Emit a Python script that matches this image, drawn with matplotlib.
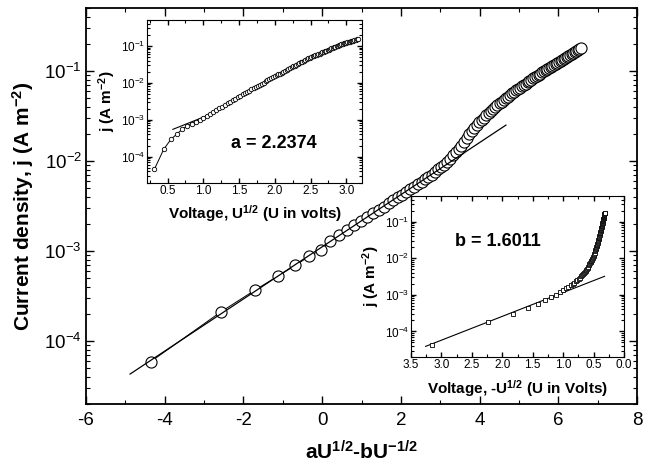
import numpy as np
import matplotlib
matplotlib.use('Agg')
import matplotlib.pyplot as plt
from matplotlib.ticker import MultipleLocator, LogLocator, NullFormatter

plt.rcParams['font.family'] = ['Liberation Sans', 'DejaVu Sans']
plt.rcParams['mathtext.default'] = 'regular'
plt.rcParams['axes.unicode_minus'] = False

# applied voltage U (V)
voltage = [0.1, 0.2, 0.3, 0.4, 0.5, 0.6, 0.7, 0.8, 0.9, 1.0,
           1.1, 1.2, 1.3, 1.4, 1.5, 1.6, 1.7, 1.8, 1.9, 2.0,
           2.1, 2.2, 2.3, 2.4, 2.5, 2.6, 2.7, 2.8, 2.9, 3.0,
           3.1, 3.2, 3.3, 3.4, 3.5, 3.6, 3.7, 3.8, 3.9, 4.0,
           4.1, 4.2, 4.3, 4.4, 4.5, 4.6, 4.7, 4.8, 4.9, 5.0,
           5.1, 5.2, 5.3, 5.4, 5.5, 5.6, 5.7, 5.8, 5.9, 6.0,
           6.1, 6.2, 6.3, 6.4, 6.5, 6.6, 6.7, 6.8, 6.9, 7.0,
           7.1, 7.2, 7.3, 7.4, 7.5, 7.6, 7.7, 7.8, 7.9, 8.0,
           8.1, 8.2, 8.3, 8.4, 8.5, 8.6, 8.7, 8.8, 8.9, 9.0,
           9.1, 9.2, 9.3, 9.4, 9.5, 9.6, 9.7, 9.8, 9.9, 10.0]

# log10 of current density (A m^-2)
log_j = [-4.229, -3.678, -3.432, -3.276, -3.161, -3.060, -2.991, -2.891, -2.826, -2.768,
         -2.714, -2.665, -2.619, -2.577, -2.546, -2.508, -2.472, -2.438, -2.405, -2.373,
         -2.342, -2.313, -2.285, -2.256, -2.230, -2.204, -2.178, -2.152, -2.123, -2.095,
         -2.067, -2.040, -2.010, -1.974, -1.938, -1.903, -1.869, -1.830, -1.787, -1.746,
         -1.705, -1.665, -1.630, -1.601, -1.573, -1.545, -1.518, -1.491, -1.464, -1.440,
         -1.420, -1.400, -1.380, -1.361, -1.341, -1.322, -1.303, -1.285, -1.266, -1.248,
         -1.231, -1.215, -1.200, -1.185, -1.170, -1.155, -1.141, -1.126, -1.112, -1.098,
         -1.084, -1.070, -1.056, -1.042, -1.029, -1.015, -1.002, -0.989, -0.976, -0.964,
         -0.953, -0.941, -0.930, -0.919, -0.908, -0.897, -0.886, -0.875, -0.864, -0.854,
         -0.843, -0.832, -0.822, -0.811, -0.801, -0.790, -0.780, -0.770, -0.760, -0.749]

# log10 of current density as shown in the upper inset (vs U^1/2)
log_j_upper = [-4.340, -3.800, -3.530, -3.385, -3.257, -3.170, -3.107, -3.049, -2.994, -2.942,
               -2.892, -2.841, -2.788, -2.738, -2.689, -2.642, -2.596, -2.551, -2.509, -2.467,
               -2.426, -2.386, -2.346, -2.309, -2.275, -2.242, -2.209, -2.176, -2.144, -2.113,
               -2.082, -2.052, -2.022, -1.993, -1.964, -1.937, -1.908, -1.881, -1.853, -1.826,
               -1.800, -1.775, -1.749, -1.724, -1.700, -1.675, -1.652, -1.628, -1.604, -1.581,
               -1.558, -1.535, -1.512, -1.489, -1.467, -1.446, -1.424, -1.402, -1.380, -1.359,
               -1.337, -1.319, -1.303, -1.287, -1.270, -1.255, -1.239, -1.223, -1.207, -1.192,
               -1.176, -1.161, -1.146, -1.131, -1.116, -1.101, -1.086, -1.071, -1.057, -1.043,
               -1.028, -1.013, -0.999, -0.985, -0.971, -0.957, -0.944, -0.934, -0.924, -0.914,
               -0.904, -0.894, -0.884, -0.875, -0.865, -0.856, -0.846, -0.837, -0.827, -0.818]

# log10 of current density as shown in the lower inset (vs U^-1/2)
log_j_lower = [-4.365, -3.755, -3.530, -3.365, -3.240, -3.140, -3.060, -2.995, -2.924, -2.864,
               -2.818, -2.779, -2.740, -2.701, -2.665, -2.634, -2.599, -2.562, -2.528, -2.498,
               -2.470, -2.443, -2.408, -2.373, -2.341, -2.310, -2.283, -2.255, -2.227, -2.196,
               -2.169, -2.142, -2.114, -2.090, -2.068, -2.044, -2.023, -2.001, -1.980, -1.946,
               -1.913, -1.879, -1.845, -1.817, -1.784, -1.756, -1.728, -1.700, -1.677, -1.649,
               -1.627, -1.604, -1.576, -1.554, -1.531, -1.513, -1.485, -1.458, -1.437, -1.409,
               -1.389, -1.368, -1.340, -1.320, -1.299, -1.278, -1.257, -1.237, -1.223, -1.202,
               -1.181, -1.168, -1.147, -1.133, -1.111, -1.096, -1.075, -1.060, -1.046, -1.031,
               -1.009, -0.995, -0.980, -0.966, -0.951, -0.937, -0.922, -0.908, -0.893, -0.878,
               -0.864, -0.857, -0.842, -0.828, -0.813, -0.806, -0.791, -0.777, -0.769, -0.755]

a_coef = 2.2374
b_coef = 1.6011

# straight-line fits (end points)
fit_main_x = [-4.88, 4.67]
fit_main_j = [4.3e-5, 2.5e-2]
fit_a_x = [0.575, 1.1]
fit_a_j = [5.5e-4, 1.4e-3]
fit_b_x = [3.26, 0.32]
fit_b_j = [3.9e-5, 3.2e-3]

U = np.array(voltage)
j = 10 ** np.array(log_j)
j_upper = 10 ** np.array(log_j_upper)
j_lower = 10 ** np.array(log_j_lower)
x_main = a_coef * np.sqrt(U) - b_coef / np.sqrt(U)


def style_log_axis(ax, major_len, minor_len, lsize, pad):
    ax.set_yscale('log')
    ax.yaxis.set_major_locator(LogLocator(base=10, numticks=12))
    ax.yaxis.set_minor_locator(LogLocator(base=10, subs=np.arange(2, 10), numticks=12))
    ax.yaxis.set_minor_formatter(NullFormatter())
    ax.tick_params(which='both', direction='in', top=True, right=True)
    ax.tick_params(which='major', length=major_len, width=1, labelsize=lsize, pad=pad)
    ax.tick_params(which='minor', length=minor_len, width=0.8)


fig = plt.figure(figsize=(6.52, 4.68), dpi=100)

# main plot
ax = fig.add_axes([0.1319, 0.1368, 0.8451, 0.8462])
ax.plot(x_main, j, '-o', color='k', lw=0.7, ms=8, mfc='white', mec='k', mew=0.8, zorder=2)
ax.plot(fit_main_x, fit_main_j, '-', color='k', lw=0.9, zorder=3)
style_log_axis(ax, 6, 3, 13.5, 3)
ax.set_xlim(-6, 8)
ax.set_ylim(2e-5, 0.5)
ax.xaxis.set_major_locator(MultipleLocator(2))
ax.xaxis.set_minor_locator(MultipleLocator(1))
ax.tick_params(axis='x', which='major', pad=6)
for s in ax.spines.values():
    s.set_linewidth(1.3)
ax.set_xlabel('aU$^{1/2}$-bU$^{-1/2}$', fontsize=15, fontweight='bold', labelpad=8)
ax.set_ylabel('Current density, j (A m$^{-2}$)', fontsize=15, fontweight='bold', labelpad=6)

# inset: j vs U^1/2
ax1 = fig.add_axes([0.2262, 0.6100, 0.3290, 0.3472])
ax1.plot(np.sqrt(U), j_upper, '-o', color='k', lw=0.7, ms=3.2, mfc='white', mec='k', mew=0.6, zorder=3)
ax1.plot(fit_a_x, fit_a_j, '-', color='k', lw=0.8, zorder=2)
style_log_axis(ax1, 3.5, 2, 8.5, 1.5)
ax1.set_xlim(0.22, 3.22)
ax1.set_ylim(2e-5, 0.5)
ax1.xaxis.set_major_locator(MultipleLocator(0.5))
ax1.xaxis.set_minor_locator(MultipleLocator(0.25))
ax1.set_xlabel('Voltage, U$^{1/2}$ (U in volts)', fontsize=11, fontweight='bold', labelpad=5)
ax1.set_ylabel('j (A m$^{-2}$)', fontsize=11, fontweight='bold', labelpad=2)
ax1.text(0.59, 0.243, 'a = 2.2374', transform=ax1.transAxes, ha='center', va='center',
         fontsize=13, fontweight='bold')

# inset: j vs U^-1/2
ax2 = fig.add_axes([0.6304, 0.2372, 0.3267, 0.3440])
ax2.plot(1 / np.sqrt(U), j_lower, 's', ms=3, mfc='white', mec='k', mew=0.6, zorder=3)
ax2.plot(fit_b_x, fit_b_j, '-', color='k', lw=0.8, zorder=2)
style_log_axis(ax2, 3.5, 2, 8.5, 1.5)
ax2.set_xlim(3.5, 0.0)
ax2.set_ylim(2e-5, 0.5)
ax2.xaxis.set_major_locator(MultipleLocator(0.5))
ax2.xaxis.set_minor_locator(MultipleLocator(0.25))
ax2.set_xlabel('Voltage, -U$^{1/2}$ (U in Volts)', fontsize=11, fontweight='bold', labelpad=5)
ax2.set_ylabel('j (A m$^{-2}$)', fontsize=11, fontweight='bold', labelpad=2)
ax2.text(0.408, 0.72, 'b = 1.6011', transform=ax2.transAxes, ha='center', va='center',
         fontsize=13, fontweight='bold')

fig.savefig('out.png', dpi=100)
